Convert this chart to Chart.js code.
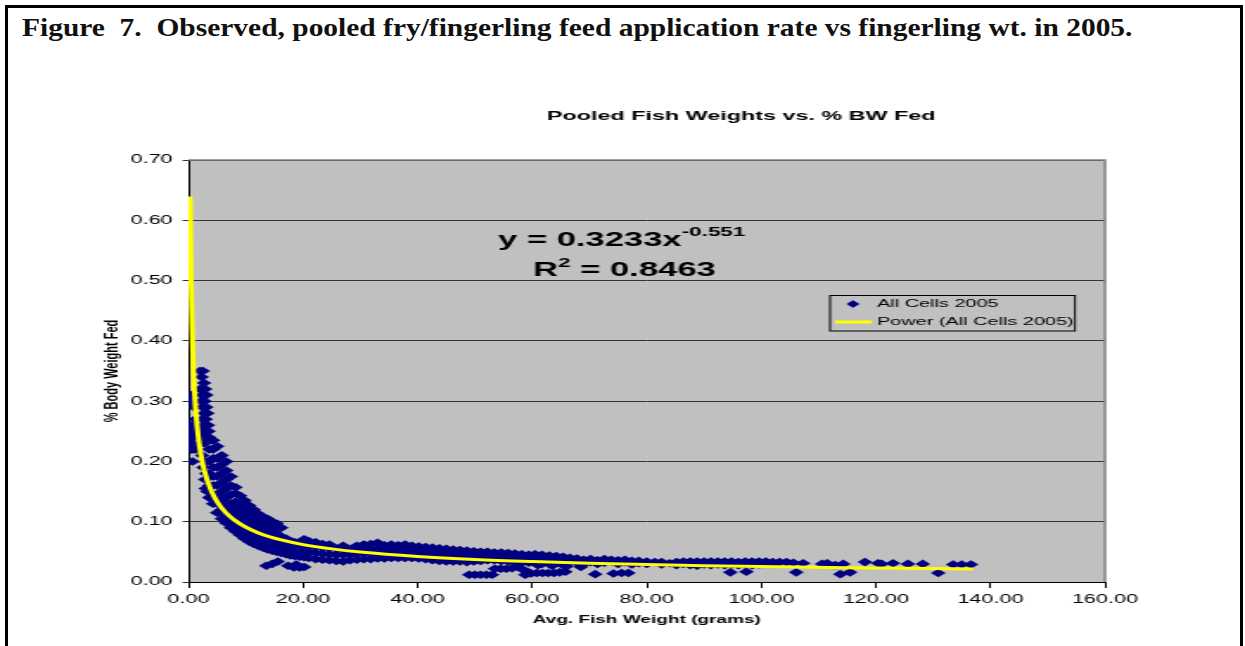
<!DOCTYPE html>
<html>
<head>
<meta charset="utf-8">
<script src="https://cdn.jsdelivr.net/npm/chart.js@4/dist/chart.umd.min.js"></script>
<style>
  html, body { margin: 0; padding: 0; background: #fff; width: 1245px; height: 646px; overflow: hidden; }
  #frame { position: absolute; left: 5px; top: 5px; width: 1232px; height: 680px; border: 3px solid #000; border-bottom: none; }
  #caption { position: absolute; left: 22px; top: 15px; font: bold 25px "Liberation Serif", "DejaVu Serif", serif; line-height: 1; white-space: nowrap; transform-origin: 0 0; color: #111; }
  /* the source chart is stretched sideways, so draw narrow and scale */
  #wrap { position: absolute; left: 0; top: 0; width: 720px; height: 646px; transform: scaleX(1.7292); transform-origin: 0 0; }
</style>
</head>
<body>
<div id="frame"></div>
<div id="caption">Figure&nbsp;&nbsp;7.&nbsp;&nbsp;Observed, pooled fry/fingerling feed application rate vs fingerling wt. in 2005.</div>
<div id="wrap"><canvas id="chart" width="720" height="646" style="width:720px;height:646px"></canvas></div>
<script>
// Pooled fish weight (g) vs % body weight fed
const fryPts = [
  [0.3,0.30],[0.5,0.31],[0.8,0.30],[1.0,0.29],[0.3,0.26],[0.5,0.25],[0.8,0.26],[0.4,0.24],
  [0.7,0.23],[1.0,0.24],[0.5,0.22],[0.9,0.22],[0.7,0.20],[1.2,0.27],[1.2,0.25],[1.3,0.22],
  [2.0,0.35],[2.5,0.35],[2.3,0.34],[2.7,0.33],[2.0,0.32],[2.9,0.32],[2.4,0.31],[3.1,0.31],
  [2.2,0.30],[2.8,0.30],[2.5,0.29],[3.1,0.29],[2.7,0.28],[3.3,0.28],[2.4,0.27],[3.0,0.27],
  [2.6,0.26],[3.4,0.26],[2.2,0.25],[2.9,0.25],[3.5,0.25],[2.5,0.24],[3.2,0.24],[2.1,0.23],
  [2.8,0.23],[2.4,0.21],[2.9,0.20],[2.6,0.19],[3.1,0.18],[2.9,0.17],[3.0,0.155],[3.3,0.15]
];

const juvenilePts = [
  [3.6,0.14],[3.6,0.16],[3.6,0.18],[3.6,0.20],[3.6,0.22],[3.6,0.24],
  [4.3,0.13],[4.3,0.145],[4.3,0.16],[4.3,0.175],[4.3,0.19],[4.3,0.205],[4.3,0.22],[4.3,0.235],
  [5.0,0.115],[5.0,0.13],[5.0,0.145],[5.0,0.16],[5.0,0.175],[5.0,0.19],[5.0,0.205],[5.0,0.225],
  [5.8,0.105],[5.8,0.12],[5.8,0.135],[5.8,0.15],[5.8,0.165],[5.8,0.18],[5.8,0.195],[5.8,0.21],
  [6.6,0.098],[6.6,0.11],[6.6,0.125],[6.6,0.14],[6.6,0.155],[6.6,0.17],[6.6,0.185],[6.6,0.20],
  [7.4,0.09],[7.4,0.103],[7.4,0.116],[7.4,0.13],[7.4,0.145],[7.4,0.16],[7.4,0.175],
  [8.2,0.084],[8.2,0.096],[8.2,0.108],[8.2,0.12],[8.2,0.133],[8.2,0.147],[8.2,0.157],
  [9.0,0.078],[9.0,0.09],[9.0,0.102],[9.0,0.115],[9.0,0.128],[9.0,0.143],
  [9.8,0.072],[9.8,0.083],[9.8,0.095],[9.8,0.107],[9.8,0.12],[9.8,0.135],
  [10.6,0.067],[10.6,0.078],[10.6,0.09],[10.6,0.10],[10.6,0.112],[10.6,0.127],
  [11.4,0.063],[11.4,0.073],[11.4,0.085],[11.4,0.095],[11.4,0.105],[11.4,0.12],
  [12.2,0.06],[12.2,0.07],[12.2,0.08],[12.2,0.09],[12.2,0.10],[12.2,0.113],
  [13.0,0.057],[13.0,0.067],[13.0,0.077],[13.0,0.087],[13.0,0.097],[13.0,0.108],
  [13.8,0.054],[13.8,0.064],[13.8,0.075],[13.8,0.085],[13.8,0.095],[13.8,0.105],
  [14.6,0.052],[14.6,0.062],[14.6,0.072],[14.6,0.082],[14.6,0.093],[14.6,0.10],
  [15.4,0.05],[15.4,0.06],[15.4,0.07],[15.4,0.08],[15.4,0.09],[15.4,0.097],
  [16.2,0.048],[16.2,0.057],[16.2,0.066],[16.2,0.075],[16.2,0.09],
  [17.0,0.046],[17.0,0.055],[17.0,0.063],[17.0,0.072],
  [17.8,0.044],[17.8,0.053],[17.8,0.061],[17.8,0.068],
  [18.6,0.043],[18.6,0.051],[18.6,0.06],[18.6,0.066],
  [19.4,0.042],[19.4,0.05],[19.4,0.058],[19.4,0.064],
  [20.2,0.041],[20.2,0.049],[20.2,0.057],[20.2,0.071]
];

const growerPts = [
  [21.0,0.04],[21.0,0.05],[21.0,0.06],[21.0,0.068],
  [22.2,0.038],[22.2,0.048],[22.2,0.058],[22.2,0.066],
  [23.4,0.037],[23.4,0.047],[23.4,0.057],[23.4,0.063],
  [24.6,0.036],[24.6,0.046],[24.6,0.056],[24.6,0.062],
  [25.8,0.035],[25.8,0.045],[25.8,0.055],
  [27.0,0.034],[27.0,0.045],[27.0,0.054],[27.0,0.06],
  [28.2,0.036],[28.2,0.045],[28.2,0.053],
  [29.4,0.037],[29.4,0.046],[29.4,0.054],[29.4,0.06],
  [30.6,0.038],[30.6,0.047],[30.6,0.055],[30.6,0.062],
  [31.8,0.038],[31.8,0.047],[31.8,0.055],[31.8,0.063],
  [33.0,0.039],[33.0,0.047],[33.0,0.055],[33.0,0.065],
  [34.2,0.039],[34.2,0.047],[34.2,0.055],[34.2,0.061],
  [35.4,0.04],[35.4,0.048],[35.4,0.055],[35.4,0.062],
  [36.6,0.04],[36.6,0.048],[36.6,0.055],[36.6,0.061],
  [37.8,0.04],[37.8,0.048],[37.8,0.055],[37.8,0.062],
  [39.0,0.04],[39.0,0.047],[39.0,0.054],[39.0,0.06],
  [40.2,0.039],[40.2,0.047],[40.2,0.054],[40.2,0.059],
  [41.4,0.038],[41.4,0.046],[41.4,0.053],[41.4,0.058],
  [42.6,0.036],[42.6,0.045],[42.6,0.052],[42.6,0.057],
  [43.8,0.035],[43.8,0.044],[43.8,0.052],[43.8,0.056],
  [45.0,0.034],[45.0,0.043],[45.0,0.051],[45.0,0.055],
  [46.2,0.034],[46.2,0.042],[46.2,0.05],[46.2,0.054],
  [47.4,0.034],[47.4,0.042],[47.4,0.05],[47.4,0.053],
  [48.6,0.033],[48.6,0.041],[48.6,0.049],[48.6,0.052],
  [49.8,0.034],[49.8,0.041],[49.8,0.048],[49.8,0.051],
  [51.0,0.035],[51.0,0.041],[51.0,0.048],[51.0,0.05],
  [52.2,0.036],[52.2,0.041],[52.2,0.047],[52.2,0.05],
  [53.4,0.036],[53.4,0.041],[53.4,0.047],[53.4,0.049],
  [54.6,0.035],[54.6,0.04],[54.6,0.046],[54.6,0.049],
  [55.8,0.034],[55.8,0.039],[55.8,0.045],[55.8,0.048],
  [57.0,0.033],[57.0,0.038],[57.0,0.044],[57.0,0.047],
  [58.2,0.032],[58.2,0.037],[58.2,0.043],[58.2,0.046],
  [59.4,0.032],[59.4,0.037],[59.4,0.042],[59.4,0.045]
];

const finisherPts = [
  [60.5,0.033],[60.5,0.04],[60.5,0.046],[61.7,0.03],[61.7,0.038],[61.7,0.045],
  [63.0,0.03],[63.0,0.037],[63.0,0.044],[64.2,0.032],[64.2,0.038],[64.2,0.043],
  [65.4,0.028],[65.4,0.036],[65.4,0.042],[66.6,0.034],[66.6,0.04],[67.8,0.032],[67.8,0.039],
  [69.0,0.03],[69.0,0.037],[70.2,0.033],[70.2,0.038],[71.4,0.03],[71.4,0.036],
  [72.6,0.032],[72.6,0.038],[73.8,0.034],[73.8,0.037],[75.0,0.03],[75.0,0.036],
  [76.2,0.033],[76.2,0.037],[77.4,0.029],[77.4,0.035],[78.6,0.031],[78.6,0.035],
  [80.0,0.03],[80.0,0.034],[81.4,0.033],[82.6,0.029],[82.6,0.033],[84.0,0.031],
  [85.2,0.028],[85.2,0.033],[86.4,0.03],[86.4,0.034],[87.6,0.028],[87.6,0.034],
  [88.8,0.027],[88.8,0.034],[90.0,0.029],[90.0,0.034],[91.2,0.028],[91.2,0.034],
  [92.4,0.029],[92.4,0.034],[93.6,0.028],[93.6,0.034],[94.8,0.029],[94.8,0.034],
  [96.0,0.028],[96.0,0.033],[97.2,0.029],[97.2,0.034],[98.4,0.028],[98.4,0.034],
  [99.6,0.029],[99.6,0.034],[100.8,0.03],[100.8,0.034],[102.0,0.03],[102.0,0.033],
  [103.2,0.033],[104.4,0.033],[105.6,0.032],[107.3,0.031],[110.6,0.030],[111.5,0.031],
  [112.9,0.028],[114.3,0.030],[118.1,0.033],[120.4,0.031],[121.0,0.030],[123.0,0.031],
  [125.6,0.030],[128.2,0.030],[133.5,0.029],[135.0,0.029],[136.6,0.029]
];

const lowPts = [
  [13.6,0.027],[14.6,0.03],[15.6,0.034],[17.4,0.027],[18.4,0.024],[19.4,0.024],[20.2,0.025],[18.8,0.029],
  [49.0,0.012],[50.0,0.012],[51.0,0.012],[52.0,0.012],[53.0,0.012],
  [53.5,0.022],[54.5,0.022],[55.5,0.022],[56.5,0.023],[57.5,0.025],[58.5,0.02],
  [58.8,0.012],[59.8,0.014],[60.8,0.015],[61.8,0.015],[62.8,0.015],[63.8,0.015],[64.8,0.016],[65.8,0.017],[59.2,0.017],
  [61.0,0.028],[63.5,0.027],[66.0,0.026],[68.5,0.025],
  [71.0,0.013],[74.2,0.014],[75.6,0.015],[76.8,0.015],
  [94.6,0.016],[97.4,0.017],[106.1,0.016],[113.8,0.013],[115.5,0.016],[130.9,0.015]
];

// power trendline as printed: y = 0.3233x^-0.551
const trendWeight = [0.29, 0.4, 0.5, 0.6, 0.8, 1, 1.2, 1.5, 2, 2.5, 3, 4, 5, 6, 7, 8, 10, 12, 14, 16, 20, 25, 30, 40, 50, 60, 70, 80, 90, 100, 115, 137];
const trendRate = [0.6395, 0.5356, 0.4737, 0.4284, 0.3656, 0.3233, 0.2924, 0.2586, 0.2207, 0.1951, 0.1765, 0.1506, 0.1332, 0.1205, 0.1106, 0.1028, 0.0909, 0.0822, 0.0755, 0.0702, 0.0620, 0.0549, 0.0496, 0.0424, 0.0374, 0.0339, 0.0311, 0.0289, 0.0271, 0.0256, 0.0237, 0.0215];

const xTicks = { min: 0, max: 160, step: 20 };
const yTicks = { min: 0, max: 0.7, step: 0.1 };

const SX = 1.7292;             // horizontal stretch of the source image
const FONT = '"Liberation Sans", Arial, sans-serif';
const NAVY = '#000080';
const YELLOW = '#FFFF00';

// caption: fit to the width it has in the figure
const cap = document.getElementById('caption');
cap.style.transform = `scaleX(${1111 / cap.offsetWidth})`;

function diamond(ctx, x, y, r) {
  ctx.beginPath();
  ctx.moveTo(x - r, y); ctx.lineTo(x, y - r); ctx.lineTo(x + r, y); ctx.lineTo(x, y + r);
  ctx.closePath();
  ctx.fill();
}

const excelDecor = {
  id: 'excelDecor',
  beforeDraw(chart) {
    const { ctx, chartArea: a } = chart;
    ctx.save();
    ctx.fillStyle = '#C0C0C0';
    ctx.fillRect(a.left, a.top, a.right - a.left, a.bottom - a.top);
    ctx.restore();
  },
  afterDraw(chart) {
    const { ctx, chartArea: a } = chart;
    ctx.save();
    // plot area border (top, right)
    ctx.strokeStyle = '#808080';
    ctx.lineWidth = 1.5;
    ctx.beginPath();
    ctx.moveTo(a.left, a.top); ctx.lineTo(a.right, a.top); ctx.lineTo(a.right, a.bottom);
    ctx.stroke();

    ctx.fillStyle = '#000';
    ctx.textBaseline = 'middle';
    ctx.textAlign = 'center';
    ctx.font = `bold 13.5px ${FONT}`;
    ctx.fillText('Pooled Fish Weights vs. % BW Fed', 741 / SX, 116);

    // trendline equation
    ctx.textAlign = 'left';
    ctx.textBaseline = 'alphabetic';
    let x = 498 / SX;
    ctx.font = `bold 20px ${FONT}`;
    ctx.fillText('y = 0.3233x', x, 246);
    x += ctx.measureText('y = 0.3233x').width;
    ctx.font = `bold 13px ${FONT}`;
    ctx.fillText('-0.551', x, 236);

    x = 533 / SX;
    ctx.font = `bold 20px ${FONT}`;
    ctx.fillText('R', x, 276);
    x += ctx.measureText('R').width;
    ctx.font = `bold 13px ${FONT}`;
    ctx.fillText('2', x, 267);
    x += ctx.measureText('2').width;
    ctx.font = `bold 20px ${FONT}`;
    ctx.fillText(' = 0.8463', x, 276);

    // legend box
    const lx = 830 / SX, rx = 1075 / SX;
    ctx.strokeStyle = '#000';
    ctx.lineWidth = 1;
    ctx.strokeRect(lx, 295.5, rx - lx, 35.5);
    ctx.fillStyle = NAVY;
    diamond(ctx, 853 / SX, 304, 3.8);
    ctx.strokeStyle = YELLOW;
    ctx.lineWidth = 3;
    ctx.beginPath();
    ctx.moveTo(835 / SX, 322); ctx.lineTo(872 / SX, 322);
    ctx.stroke();
    ctx.fillStyle = '#000';
    ctx.font = `11.5px ${FONT}`;
    ctx.textBaseline = 'middle';
    ctx.fillText('All Cells 2005', 877 / SX, 304);
    ctx.fillText('Power (All Cells 2005)', 877 / SX, 322);
    ctx.restore();
  }
};

const allPts = [...fryPts, ...juvenilePts, ...growerPts, ...finisherPts, ...lowPts];

new Chart(document.getElementById('chart'), {
  type: 'scatter',
  data: {
    datasets: [
      {
        label: 'Power (All Cells 2005)',
        type: 'line',
        data: trendWeight.map((w, i) => ({ x: w, y: trendRate[i] })),
        borderColor: YELLOW,
        borderWidth: 3,
        pointRadius: 0,
        cubicInterpolationMode: 'monotone',
        fill: false,
        order: 0
      },
      {
        label: 'All Cells 2005',
        data: allPts.map(p => ({ x: p[0], y: p[1] })),
        pointStyle: 'rectRot',
        pointRadius: 4.3,
        backgroundColor: NAVY,
        borderColor: NAVY,
        borderWidth: 0,
        order: 1
      }
    ]
  },
  options: {
    responsive: false,
    animation: false,
    events: [],
    layout: { padding: { top: 160, right: 81, left: 0, bottom: 0 } },
    plugins: { legend: { display: false }, tooltip: { enabled: false } },
    scales: {
      x: {
        type: 'linear',
        position: 'bottom',
        min: xTicks.min, max: xTicks.max,
        ticks: { stepSize: xTicks.step, callback: v => v.toFixed(2), color: '#000', padding: 4.5, maxRotation: 0, font: { family: FONT, size: 12.5 } },
        grid: { drawOnChartArea: false, drawTicks: true, tickLength: 6, color: '#000' },
        border: { color: '#000', width: 1 },
        title: { display: true, text: 'Avg. Fish Weight (grams)', color: '#000', font: { family: FONT, size: 11, weight: 'bold' }, padding: { top: 0, bottom: 19 } },
        afterFit: s => { s.height = 64; }
      },
      y: {
        min: yTicks.min, max: yTicks.max,
        ticks: { stepSize: yTicks.step, callback: v => v.toFixed(2), color: '#000', padding: 5.7, font: { family: FONT, size: 12.5 } },
        grid: { color: '#333', lineWidth: 1, tickLength: 3.5 },
        border: { color: '#000', width: 1 },
        title: { display: true, text: '% Body Weight Fed', color: '#000', font: { family: FONT, size: 11, weight: 'bold' }, padding: { top: 58, bottom: 0 } },
        afterFit: s => { s.width = 109; }
      }
    }
  },
  plugins: [excelDecor]
});
</script>
</body>
</html>
